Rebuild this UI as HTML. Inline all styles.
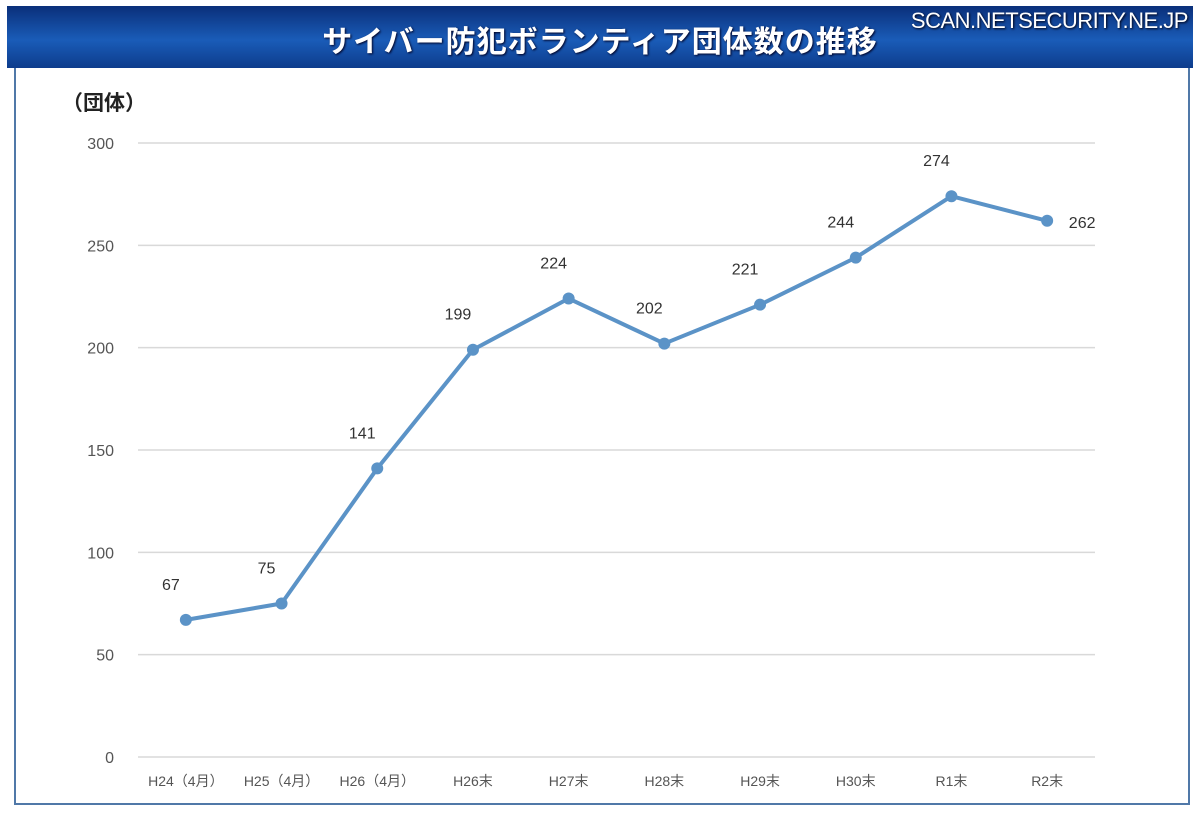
<!DOCTYPE html>
<html><head><meta charset="utf-8"><style>
body{margin:0;width:1200px;height:818px;background:#fff;position:relative;overflow:hidden;font-family:"Liberation Sans","Noto Sans CJK JP",sans-serif}
#hdr{position:absolute;left:7px;top:6px;width:1186px;height:62px;background:linear-gradient(#0a2f7a,#1a5cb8 55%,#0d3c8c);}
#title{position:absolute;left:0;width:1200px;top:17px;text-align:center;color:#fff;font-size:30px;font-weight:bold;letter-spacing:1px;text-shadow:1px 1px 2px #002}
#site{position:absolute;right:12px;top:8px;color:#fff;font-size:22px;letter-spacing:-0.5px;text-shadow:1px 1px 2px #001}
#frame{position:absolute;left:14px;top:68px;width:1172px;height:735px;border:2px solid #5078a8;border-top:none;box-sizing:content-box}
</style></head><body>
<div id="hdr"></div>
<div id="title">サイバー防犯ボランティア団体数の推移</div>
<div id="site">SCAN.NETSECURITY.NE.JP</div>
<div id="frame"></div>
<svg id="chart" width="1200" height="818" style="position:absolute;left:0;top:0"></svg>
<script>
const categories=["H24（4月）","H25（4月）","H26（4月）","H26末","H27末","H28末","H29末","H30末","R1末","R2末"];
const values=[67,75,141,199,224,202,221,244,274,262];
const ticks=[0,50,100,150,200,250,300];
const svg=document.getElementById('chart');
const NS='http://www.w3.org/2000/svg';
const x0=138,x1=1095,yb=757,yt=143,ymax=300;
const bw=(x1-x0)/categories.length;
const X=i=>x0+bw*(i+0.5);
const Y=v=>yb-(v/ymax)*(yb-yt);
function el(t,a,txt){const e=document.createElementNS(NS,t);for(const k in a)e.setAttribute(k,a[k]);if(txt!=null)e.textContent=txt;svg.appendChild(e);return e;}
const u=el('text',{x:62,y:110,'font-size':21,'font-weight':'bold',fill:'#222','font-family':'"Liberation Sans","Noto Sans CJK JP",sans-serif'},'（団体）');


ticks.forEach(t=>{
 const g=el('line',{x1:x0,x2:x1,y1:Y(t),y2:Y(t),stroke:'#d9d9d9','stroke-width':1.5});
 
 
 const l=el('text',{x:114,y:Y(t)+6,'text-anchor':'end','font-size':16,fill:'#555'},t);
 
 
});
categories.forEach((c,i)=>{
 const l=el('text',{x:X(i),y:786,'text-anchor':'middle','font-size':14,fill:'#555','font-family':'"Liberation Sans","Noto Sans CJK JP",sans-serif'},c);
 
 
});
const p=el('polyline',{points:values.map((v,i)=>X(i)+','+Y(v)).join(' '),fill:'none',stroke:'#5b93c7','stroke-width':4,'stroke-linejoin':'round'});


values.forEach((v,i)=>{
 const c=el('circle',{cx:X(i),cy:Y(v),r:6,fill:'#5b93c7'});
 
 
 const last=i===values.length-1;
 const t=el('text',{x:last?X(i)+35:X(i)-15,y:last?Y(v)+7:Y(v)-30,'text-anchor':'middle','font-size':16,fill:'#333'},v);
 
 
});
</script>
</body></html>
